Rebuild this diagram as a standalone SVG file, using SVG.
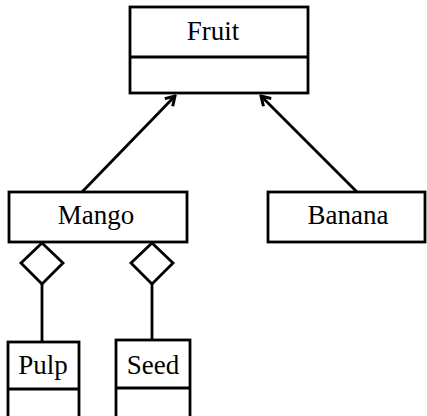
<svg xmlns="http://www.w3.org/2000/svg" width="427" height="416" viewBox="0 0 427 416">
<defs>
<style>
.box{fill:#fff;stroke:#000;stroke-width:2.8}
.ln{fill:none;stroke:#000;stroke-width:2.8}
.t{font-family:"Liberation Serif","Times New Roman",serif;font-size:27px;fill:#000;text-anchor:middle}
</style>
<marker id="open" viewBox="0 0 14 14" refX="12" refY="7" markerWidth="14" markerHeight="14" markerUnits="userSpaceOnUse" orient="auto">
<path d="M3,1.5 L12,7 L3,12.5" fill="none" stroke="#000" stroke-width="3"/>
</marker>
</defs>
<rect width="427" height="416" fill="#fff"/>
<g id="connectors">
<line class="ln" x1="82" y1="192" x2="175" y2="96" marker-end="url(#open)"/>
<line class="ln" x1="357" y1="192" x2="261" y2="96" marker-end="url(#open)"/>
<polygon class="ln" points="42,243 63,263 42,284 21,263"/>
<line class="ln" x1="42" y1="284" x2="42" y2="342"/>
<polygon class="ln" points="152,243 173,263 152,284 131,263"/>
<line class="ln" x1="152" y1="284" x2="152" y2="340"/>
</g>
<g id="fruit">
<rect class="box" x="130" y="7" width="178" height="86"/>
<line class="ln" x1="130" y1="57" x2="308" y2="57"/>
<text class="t" x="213" y="40">Fruit</text>
</g>
<g id="mango">
<rect class="box" x="9" y="192" width="178" height="50"/>
<text class="t" x="96" y="224">Mango</text>
</g>
<g id="banana">
<rect class="box" x="268" y="192" width="157" height="50"/>
<text class="t" x="348" y="224">Banana</text>
</g>
<g id="pulp">
<rect class="box" x="8" y="342" width="71" height="80"/>
<line class="ln" x1="8" y1="389" x2="79" y2="389"/>
<text class="t" x="43" y="374">Pulp</text>
</g>
<g id="seed">
<rect class="box" x="116" y="340" width="74" height="82"/>
<line class="ln" x1="116" y1="388" x2="190" y2="388"/>
<text class="t" x="153" y="374">Seed</text>
</g>
</svg>
